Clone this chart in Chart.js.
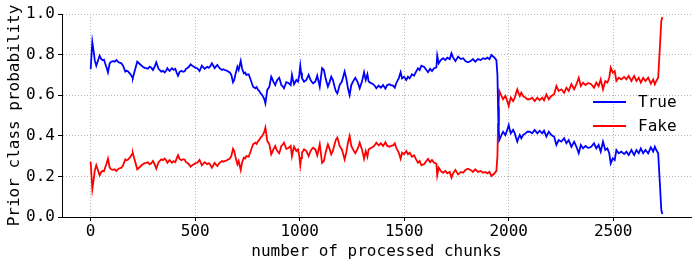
<!DOCTYPE html>
<html>
<head>
<meta charset="utf-8">
<script src="https://cdn.jsdelivr.net/npm/chart.js@4/dist/chart.umd.min.js"></script>
<style>
html,body{margin:0;padding:0;background:#fff;}
#c{display:block;}
</style>
</head>
<body>
<canvas id="c" width="698" height="267"></canvas>
<script>
const chunks = [0,8,14,20,27,35,43,51,58,64,70,75,83,91,98,107,115,123,134,147,155,166,172,178,185,191,198,202,211,223,234,244,250,258,266,274,282,290,298,306,314,325,338,346,354,361,367,373,378,389,397,405,412,418,426,434,442,450,456,462,
470,478,486,494,502,510,521,532,545,558,565,571,580,587,593,600,606,612,617,628,635,641,648,654,660,665,673,681,687,692,702,708,718,724,733,739,745,756,766,777,788,794,801,807,813,819,825,831,836,845,855,864,869,874,883,888,893,902,907,912,918,925,931,936,947,957,963,968,973,984,992,998,
1003,1007,1011,1021,1032,1043,1052,1058,1064,1075,1084,1090,1096,1102,1107,1116,1124,1130,1135,1144,1151,1159,1167,1173,1180,1185,1191,1202,1208,1215,1223,1231,1239,1247,1255,1266,1276,1282,1287,1298,1308,1316,1324,1330,1337,1343,1350,1356,1362,1367,1378,1388,1399,1410,1419,1430,1436,1447,1455,1462,1468,1474,1483,1490,1499,
1510,1518,1526,1537,1547,1557,1566,1574,1582,1589,1595,1606,1614,1624,1633,1643,1654,1658,1665,1675,1686,1697,1706,1718,1726,1734,1745,1758,1771,1782,1793,1805,1818,1829,1840,1853,1866,1877,1888,1898,1908,1917,1930,1941,1946,1949,1952,1955,1962,1973,1984,1993,
2000,2005,2010,2021,2029,2035,2041,2047,2053,2060,2069,2080,2089,2101,2112,2124,2137,2148,2160,2169,2180,2192,2204,2217,2228,2239,2252,2265,2276,2287,2300,2313,2324,2335,2345,2356,2367,2380,2395,2408,2419,2430,2440,2451,2462,2472,2481,2488,2498,
2507,2515,2526,2539,2552,2563,2574,2587,2600,2611,2622,2632,2643,2654,2667,2680,2691,2699,2706,2715,2723,2730,2735];

const trueProb = [0.728,0.862,0.82,0.77,0.745,0.77,0.795,0.778,0.772,0.775,0.755,0.74,0.712,0.757,0.765,0.768,0.765,0.773,0.762,0.757,0.745,0.716,0.72,0.718,0.71,0.703,0.69,0.686,0.72,0.765,0.755,0.745,0.74,0.735,0.733,0.73,0.74,0.735,0.724,0.74,0.762,0.73,0.716,0.72,0.712,0.72,0.733,0.725,0.72,0.733,0.725,0.73,0.71,0.696,0.715,0.72,0.715,0.718,0.73,0.733,
0.74,0.752,0.745,0.74,0.735,0.733,0.719,0.745,0.73,0.74,0.735,0.74,0.757,0.745,0.733,0.742,0.749,0.74,0.733,0.724,0.728,0.724,0.722,0.719,0.715,0.713,0.70,0.664,0.675,0.70,0.74,0.724,0.768,0.733,0.708,0.712,0.70,0.703,0.675,0.642,0.634,0.64,0.626,0.62,0.609,0.603,0.593,0.58,0.56,0.626,0.642,0.691,0.68,0.667,0.65,0.665,0.675,0.686,0.67,0.65,0.645,0.634,0.65,0.664,0.66,0.65,0.70,0.675,0.654,0.675,0.667,0.70,
0.745,0.71,0.683,0.667,0.675,0.70,0.675,0.665,0.659,0.667,0.696,0.67,0.642,0.69,0.733,0.724,0.683,0.66,0.642,0.667,0.691,0.675,0.642,0.62,0.609,0.625,0.65,0.667,0.69,0.716,0.683,0.634,0.601,0.65,0.667,0.686,0.667,0.65,0.634,0.667,0.713,0.675,0.703,0.667,0.662,0.659,0.655,0.65,0.642,0.634,0.647,0.637,0.65,0.632,0.65,0.654,0.65,0.647,0.637,0.659,0.672,0.683,0.713,0.683,0.691,
0.675,0.691,0.683,0.703,0.696,0.716,0.733,0.724,0.745,0.742,0.74,0.724,0.713,0.73,0.719,0.733,0.737,0.795,0.757,0.773,0.782,0.773,0.785,0.778,0.806,0.785,0.768,0.79,0.778,0.782,0.768,0.762,0.768,0.778,0.765,0.778,0.773,0.782,0.778,0.785,0.778,0.798,0.787,0.773,0.70,0.543,0.44,0.379,0.396,0.42,0.404,0.429,
0.453,0.43,0.412,0.429,0.412,0.39,0.371,0.39,0.404,0.388,0.404,0.412,0.42,0.42,0.412,0.429,0.412,0.425,0.412,0.425,0.396,0.42,0.404,0.396,0.355,0.379,0.371,0.388,0.363,0.379,0.346,0.371,0.346,0.314,0.355,0.338,0.35,0.34,0.346,0.363,0.338,0.355,0.322,0.371,0.33,0.338,0.314,0.264,0.289,
0.281,0.33,0.314,0.322,0.31,0.322,0.305,0.33,0.305,0.33,0.314,0.338,0.314,0.33,0.314,0.343,0.322,0.346,0.33,0.314,0.166,0.034,0.015];

const fakeProb = [0.272,0.138,0.18,0.23,0.255,0.23,0.205,0.222,0.228,0.225,0.245,0.26,0.288,0.243,0.235,0.232,0.235,0.227,0.238,0.243,0.255,0.284,0.28,0.282,0.29,0.297,0.31,0.314,0.28,0.235,0.245,0.255,0.26,0.265,0.267,0.27,0.26,0.265,0.276,0.26,0.238,0.27,0.284,0.28,0.288,0.28,0.267,0.275,0.28,0.267,0.275,0.27,0.29,0.304,0.285,0.28,0.285,0.282,0.27,0.267,
0.26,0.248,0.255,0.26,0.265,0.267,0.281,0.255,0.27,0.26,0.265,0.26,0.243,0.255,0.267,0.258,0.251,0.26,0.267,0.276,0.272,0.276,0.278,0.281,0.285,0.287,0.30,0.336,0.325,0.30,0.26,0.276,0.232,0.267,0.292,0.288,0.30,0.297,0.325,0.358,0.366,0.36,0.374,0.38,0.391,0.397,0.407,0.42,0.44,0.374,0.358,0.309,0.32,0.333,0.35,0.335,0.325,0.314,0.33,0.35,0.355,0.366,0.35,0.336,0.34,0.35,0.30,0.325,0.346,0.325,0.333,0.30,
0.255,0.29,0.317,0.333,0.325,0.30,0.325,0.335,0.341,0.333,0.304,0.33,0.358,0.31,0.267,0.276,0.317,0.34,0.358,0.333,0.309,0.325,0.358,0.38,0.391,0.375,0.35,0.333,0.31,0.284,0.317,0.366,0.399,0.35,0.333,0.314,0.333,0.35,0.366,0.333,0.287,0.325,0.297,0.333,0.338,0.341,0.345,0.35,0.358,0.366,0.353,0.363,0.35,0.368,0.35,0.346,0.35,0.353,0.363,0.341,0.328,0.317,0.287,0.317,0.309,
0.325,0.309,0.317,0.297,0.304,0.284,0.267,0.276,0.255,0.258,0.26,0.276,0.287,0.27,0.281,0.267,0.263,0.205,0.243,0.227,0.218,0.227,0.215,0.222,0.194,0.215,0.232,0.21,0.222,0.218,0.232,0.238,0.232,0.222,0.235,0.222,0.227,0.218,0.222,0.215,0.222,0.202,0.213,0.227,0.30,0.457,0.56,0.621,0.604,0.58,0.596,0.571,
0.547,0.57,0.588,0.571,0.588,0.61,0.629,0.61,0.596,0.612,0.596,0.588,0.58,0.58,0.588,0.571,0.588,0.575,0.588,0.575,0.604,0.58,0.596,0.604,0.645,0.621,0.629,0.612,0.637,0.621,0.654,0.629,0.654,0.686,0.645,0.662,0.65,0.66,0.654,0.637,0.662,0.645,0.678,0.629,0.67,0.662,0.686,0.736,0.711,
0.719,0.67,0.686,0.678,0.69,0.678,0.695,0.67,0.695,0.67,0.686,0.662,0.686,0.67,0.686,0.657,0.678,0.654,0.67,0.686,0.834,0.966,0.985];

const seriesNames = ['True', 'Fake'];
const xTickValues = [0, 500, 1000, 1500, 2000, 2500];
const yTickValues = [0.0, 0.2, 0.4, 0.6, 0.8, 1.0];

const FONT = "'DejaVu Sans Mono', monospace";
const FS = 16;

const toPoints = (xs, ys) => xs.map((x, i) => ({x: x, y: ys[i]}));

const legendPlugin = {
  id: 'mplLegend',
  afterDraw(chart) {
    const ctx = chart.ctx;
    const ca = chart.chartArea;
    ctx.save();
    ctx.font = FS + 'px ' + FONT;
    ctx.textBaseline = 'middle';
    ctx.textAlign = 'left';
    chart.data.datasets.forEach((ds, i) => {
      const y = ca.top + 88 + i * 24;
      const x0 = ca.right - 98;
      ctx.strokeStyle = ds.borderColor;
      ctx.lineWidth = 2;
      ctx.beginPath();
      ctx.moveTo(x0, y);
      ctx.lineTo(x0 + 33, y);
      ctx.stroke();
      ctx.fillStyle = '#000';
      ctx.fillText(ds.label, x0 + 45, y + 1);
    });
    ctx.restore();
  }
};

const gridOpts = {color: '#b8b8b8', lineWidth: 1, drawTicks: true, tickLength: 4, tickColor: '#000', tickWidth: 1, tickBorderDash: []};

new Chart(document.getElementById('c'), {
  type: 'line',
  data: {
    datasets: [
      {label: seriesNames[0], data: toPoints(chunks, trueProb), borderColor: '#0000ff', backgroundColor: '#0000ff', borderWidth: 1.8, pointRadius: 0, tension: 0, fill: false},
      {label: seriesNames[1], data: toPoints(chunks, fakeProb), borderColor: '#ff0000', backgroundColor: '#ff0000', borderWidth: 1.8, pointRadius: 0, tension: 0, fill: false}
    ]
  },
  plugins: [legendPlugin],
  options: {
    responsive: false,
    animation: false,
    devicePixelRatio: 1,
    layout: {padding: {top: 14, right: 7, left: 0, bottom: 0}},
    plugins: {legend: {display: false}, tooltip: {enabled: false}},
    scales: {
      x: {
        type: 'linear',
        min: -137,
        max: 2872,
        afterBuildTicks: (s) => { s.ticks = xTickValues.map(v => ({value: v})); },
        afterFit: (s) => { s.height = 50; },
        border: {display: true, color: '#000', width: 1, dash: [1, 2]},
        grid: gridOpts,
        ticks: {color: '#000', font: {family: FONT, size: FS}, padding: 1, maxRotation: 0, callback: (v) => String(v)},
        title: {display: true, text: 'number of processed chunks', color: '#000', font: {family: FONT, size: FS}, padding: {top: 0, bottom: 6}}
      },
      y: {
        type: 'linear',
        min: 0,
        max: 1,
        afterBuildTicks: (s) => { s.ticks = yTickValues.map(v => ({value: v})); },
        afterFit: (s) => { s.width = 62; },
        border: {display: true, color: '#000', width: 1, dash: [1, 2]},
        grid: gridOpts,
        ticks: {color: '#000', font: {family: FONT, size: FS}, padding: 3, callback: (v) => Number(v).toFixed(1)},
        title: {display: true, text: 'Prior class probability', color: '#000', font: {family: FONT, size: FS}, padding: {top: 5, bottom: 0}}
      }
    }
  }
});
</script>
</body>
</html>
